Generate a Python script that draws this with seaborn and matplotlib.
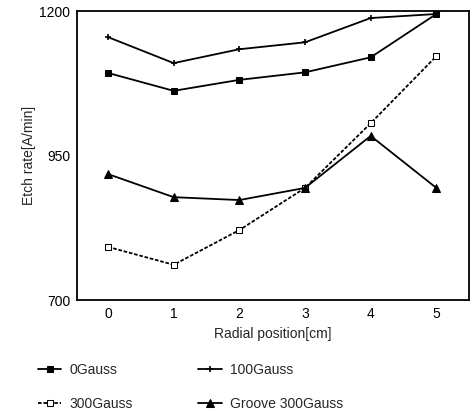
import numpy as np
import pandas as pd
import matplotlib
matplotlib.use("Agg")
import matplotlib.pyplot as plt
import seaborn as sns

# Radial position [cm]
positions = [0, 1, 2, 3, 4, 5]

# Etch rate [A/min]
gauss_0 = [1093, 1062, 1081, 1094, 1120, 1195]
gauss_100 = [1155, 1110, 1134, 1146, 1188, 1195]
gauss_300 = [792, 761, 821, 894, 1006, 1122]
groove_300 = [918, 878, 873, 894, 984, 894]

series_names = ['0Gauss', '100Gauss', '300Gauss', 'Groove 300Gauss']
series_values = [gauss_0, gauss_100, gauss_300, groove_300]

y_ticks = [700, 950, 1200]

sns.set_style('white')
plt.rcParams['font.family'] = ['Liberation Sans', 'DejaVu Sans']

fig = plt.figure(figsize=(4.73, 4.11), dpi=100)
ax = fig.add_axes([0.163, 0.270, 0.829, 0.703])

styles = {
    '0Gauss': dict(marker='s', markersize=4.5, markerfacecolor='black', linestyle='-'),
    '100Gauss': dict(marker='+', markersize=5, markeredgewidth=1.2, linestyle='-'),
    '300Gauss': dict(marker='s', markersize=5, markerfacecolor='white', linestyle=(0, (2, 1))),
    'Groove 300Gauss': dict(marker='^', markersize=6, markerfacecolor='black', linestyle='-'),
}

lines = {}
for name, vals in zip(series_names, series_values):
    df = pd.DataFrame({'x': positions, 'y': vals})
    sns.lineplot(data=df, x='x', y='y', ax=ax, color='black', linewidth=1.3,
                 markeredgecolor='black', label=name, **styles[name])
    lines[name] = ax.get_lines()[-1]

ax.get_legend().remove()

ax.set_xlim(-0.47, 5.5)
ax.set_ylim(700, 1200)
ax.set_xticks(positions)
ax.set_yticks(y_ticks)
ax.tick_params(axis='both', direction='out', length=3, width=1, colors='black',
               labelsize=10, pad=2)
for s in ax.spines.values():
    s.set_color('black')
    s.set_linewidth(1.3)

ax.set_xlabel('Radial position[cm]', fontsize=10, labelpad=4)
ax.set_ylabel('Etch rate[A/min]', fontsize=10, labelpad=2)

order = ['0Gauss', '300Gauss', '100Gauss', 'Groove 300Gauss']
fig.legend([lines[n] for n in order], order, ncol=2, frameon=False,
           loc='upper left', bbox_to_anchor=(0.08, 0.118), borderaxespad=0,
           borderpad=0, fontsize=10, handlelength=1.7, handletextpad=0.6,
           columnspacing=4.7, labelspacing=1.45)

fig.savefig('out.png', dpi=100)
